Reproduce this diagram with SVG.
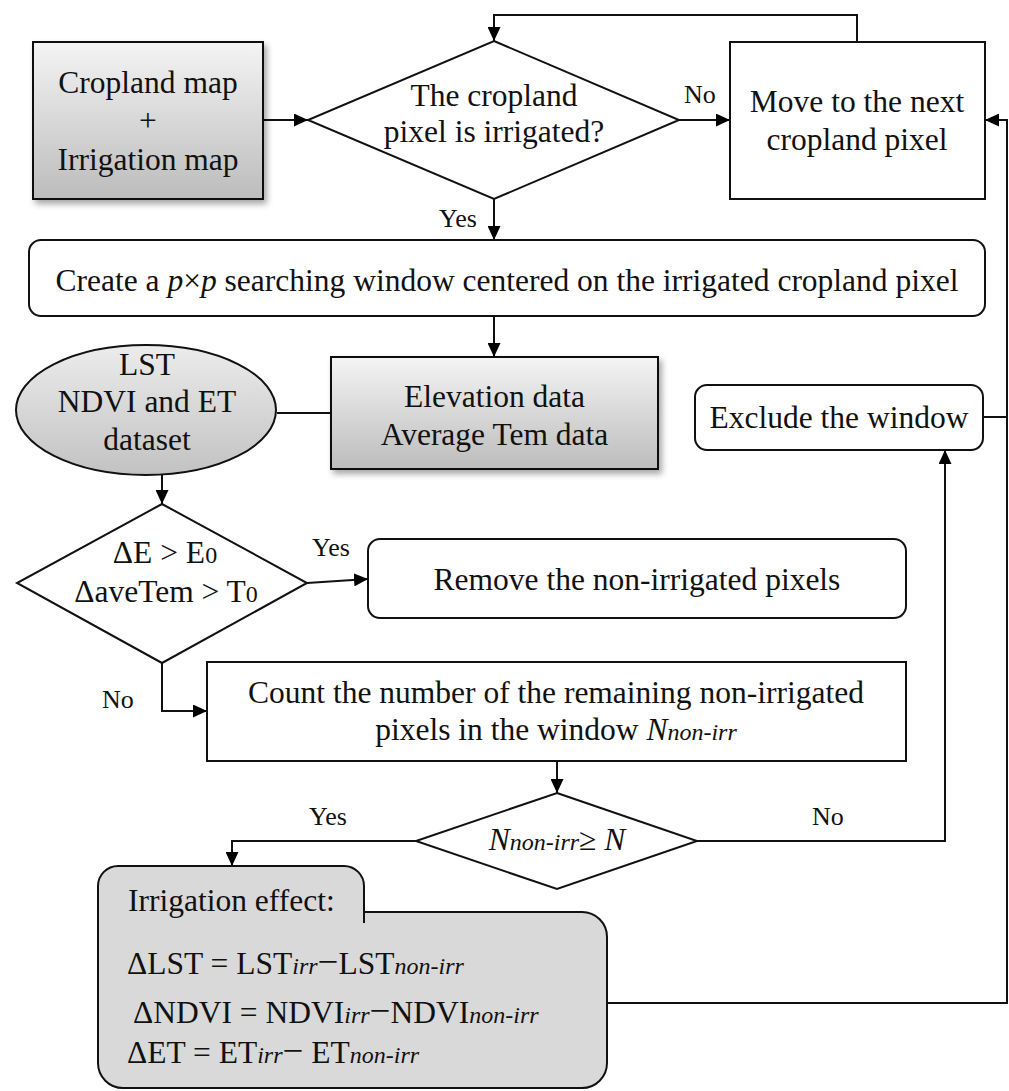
<svg xmlns="http://www.w3.org/2000/svg" width="1009" height="1091" viewBox="0 0 1009 1091">
<defs>
<linearGradient id="gBox" x1="0" y1="0" x2="0" y2="1">
<stop offset="0" stop-color="#f4f4f4"/>
<stop offset="1" stop-color="#bcbcbc"/>
</linearGradient>
<linearGradient id="gEll" x1="0" y1="0" x2="0" y2="1">
<stop offset="0" stop-color="#ececec"/>
<stop offset="1" stop-color="#c2c2c2"/>
</linearGradient>
<filter id="sh" x="-10%" y="-10%" width="125%" height="130%">
<feDropShadow dx="3" dy="4" stdDeviation="3" flood-color="#000" flood-opacity="0.35"/>
</filter>
<marker id="ah" markerUnits="userSpaceOnUse" markerWidth="15" markerHeight="13" refX="14" refY="6.5" orient="auto">
<path d="M0,0 L14,6.5 L0,13 Z" fill="#000"/>
</marker>
</defs>
<style>
.s{stroke:#111;stroke-width:2;}
.c{fill:none;stroke:#111;stroke-width:2;}
text{font-family:"Liberation Serif","Times New Roman",serif;fill:#111;}
.t{font-size:31.5px;}
.m{text-anchor:middle;}
.l{font-size:26px;}
.i{font-style:italic;}
.sb{font-size:24px;font-style:italic;}
.d{font-size:37px;}
</style>

<g id="connectors">
<path class="c" d="M263,120 L308,120" marker-end="url(#ah)"/>
<path class="c" d="M679,120 L730,120" marker-end="url(#ah)"/>
<path class="c" d="M857,42 L857,15 L494,15 L494,41" marker-end="url(#ah)"/>
<path class="c" d="M494,199 L494,240" marker-end="url(#ah)"/>
<path class="c" d="M494,316 L494,357" marker-end="url(#ah)"/>
<path class="c" d="M277,413 L331,413"/>
<path class="c" d="M162,475 L162,504" marker-end="url(#ah)"/>
<path class="c" d="M307,583 L368,579" marker-end="url(#ah)"/>
<path class="c" d="M162,663 L162,711 L207,711" marker-end="url(#ah)"/>
<path class="c" d="M557,761 L557,793" marker-end="url(#ah)"/>
<path class="c" d="M416,841 L232,841 L232,866" marker-end="url(#ah)"/>
<path class="c" d="M697,841 L945,841 L945,450" marker-end="url(#ah)"/>
<path class="c" d="M983,417 L1007,417"/>
<path class="c" d="M607,1003 L1007,1003 L1007,120 L985,120" marker-end="url(#ah)"/>
<text class="l" x="684" y="103">No</text>
<text class="l" x="439" y="227">Yes</text>
<text class="l" x="312" y="556">Yes</text>
<text class="l" x="102" y="708">No</text>
<text class="l" x="309" y="825">Yes</text>
<text class="l" x="812" y="825">No</text>
</g>

<g id="cropland">
<rect class="s" x="33" y="42" width="230" height="157" fill="url(#gBox)" filter="url(#sh)"/>
<text class="t m" x="148" y="93">Cropland map</text>
<text class="t m" x="148" y="131">+</text>
<text class="t m" x="148" y="170">Irrigation map</text>
</g>

<g id="irrigated-decision">
<polygon class="s" points="494,41 679,120 494,199 308,120" fill="#fff"/>
<text class="t m" x="494" y="106">The cropland</text>
<text class="t m" x="494" y="142">pixel is irrigated?</text>
</g>

<g id="move-next">
<rect class="s" x="730" y="42" width="255" height="157" fill="#fff"/>
<text class="t m" x="857" y="112">Move to the next</text>
<text class="t m" x="857" y="150">cropland pixel</text>
</g>

<g id="create-window">
<rect class="s" x="29" y="240" width="956" height="76" rx="12" fill="#fff"/>
<text class="t m" x="507" y="291">Create a <tspan class="i">p</tspan>×<tspan class="i">p</tspan> searching window centered on the irrigated cropland pixel</text>
</g>

<g id="datasets">
<ellipse class="s" cx="146" cy="410" rx="130" ry="65" fill="url(#gEll)"/>
<text class="t m" x="147" y="375">LST</text>
<text class="t m" x="147" y="412">NDVI and ET</text>
<text class="t m" x="147" y="450">dataset</text>
</g>

<g id="elevation">
<rect class="s" x="331" y="357" width="327" height="112" fill="url(#gBox)" filter="url(#sh)"/>
<text class="t m" x="494.5" y="407">Elevation data</text>
<text class="t m" x="494.5" y="445">Average Tem data</text>
</g>

<g id="exclude">
<rect class="s" x="695" y="385" width="288" height="65" rx="12" fill="#fff"/>
<text class="t m" x="839" y="428">Exclude the window</text>
</g>

<g id="threshold-decision">
<polygon class="s" points="162,504 307,583 162,663 17,583" fill="#fff"/>
<text class="t m" x="165" y="563">ΔE &gt; E<tspan font-size="24">0</tspan></text>
<text class="t m" x="166" y="602">ΔaveTem &gt; T<tspan font-size="24">0</tspan></text>
</g>

<g id="remove">
<rect class="s" x="368" y="539" width="538" height="79" rx="12" fill="#fff"/>
<text class="t m" x="637" y="590">Remove the non-irrigated pixels</text>
</g>

<g id="count">
<rect class="s" x="207" y="662" width="699" height="99" fill="#fff"/>
<text class="t m" x="556" y="703">Count the number of the remaining non-irrigated</text>
<text class="t m" x="556" y="740">pixels in the window <tspan class="i">N</tspan><tspan class="sb">non-irr</tspan></text>
</g>

<g id="count-decision">
<polygon class="s" points="557,793 697,841 557,889 416,841" fill="#fff"/>
<text class="t m" x="557" y="850"><tspan class="i">N</tspan><tspan class="sb">non-irr</tspan>≥ <tspan class="i">N</tspan></text>
</g>

<g id="irrigation-effect">
<path class="s" fill="#d9d9d9" d="M98,1063 L98,886 A20,20 0 0 1 118,866 L344,866 A20,20 0 0 1 364,886 L364,912 L582,912 A25,25 0 0 1 607,937 L607,1063 A25,25 0 0 1 582,1088 L123,1088 A25,25 0 0 1 98,1063 Z"/>
<path class="c" d="M364,910 L364,923"/>
<text class="t" x="128" y="911">Irrigation effect:</text>
<text class="t" x="127" y="974">ΔLST = LST<tspan class="sb">irr</tspan><tspan class="d">−</tspan>LST<tspan class="sb">non-irr</tspan></text>
<text class="t" x="133" y="1023">ΔNDVI = NDVI<tspan class="sb">irr</tspan><tspan class="d">−</tspan>NDVI<tspan class="sb">non-irr</tspan></text>
<text class="t" x="127" y="1063">ΔET = ET<tspan class="sb">irr</tspan><tspan class="d">−</tspan> ET<tspan class="sb">non-irr</tspan></text>
</g>
</svg>
